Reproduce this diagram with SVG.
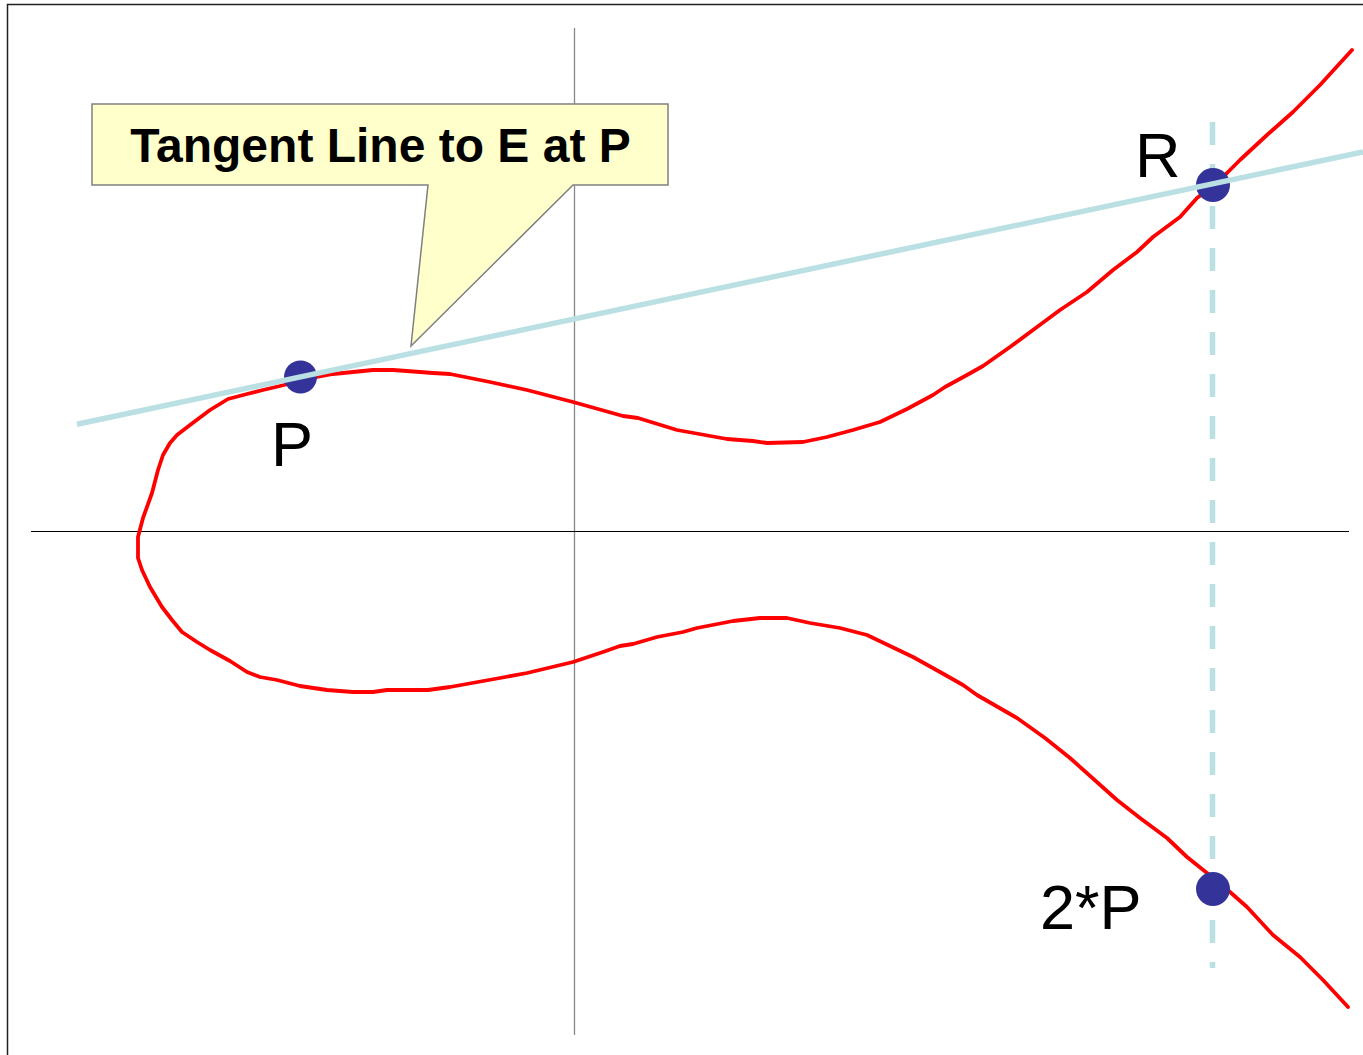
<svg xmlns="http://www.w3.org/2000/svg" width="1363" height="1055" viewBox="0 0 1363 1055">
<style>
.frame{fill:none;stroke:#222222;stroke-width:1.5}
.axis-v{stroke:#888888;stroke-width:1.3}
.axis-h{stroke:#000000;stroke-width:1}
.callout{fill:#FFFFCC;stroke:#808080;stroke-width:1.5}
.curve{fill:none;stroke:#FF0000;stroke-width:3.8;stroke-linejoin:round;stroke-linecap:round}
.tangent{stroke:#BBE0E3;stroke-width:5.5}
.vert{stroke:#BBE0E3;stroke-width:5.5;stroke-dasharray:23 19}
.pt{fill:#333399}
.lbl{font-family:"Liberation Sans",Arial,sans-serif;font-size:63px;fill:#000}
.title{font-family:"Liberation Sans",Arial,sans-serif;font-size:48px;font-weight:bold;fill:#000}
</style>
<rect width="1363" height="1055" fill="#FFFFFF"/>
<path class="frame" d="M7.5,1055 V4.5 H1363"/>
<g id="axes">
<line class="axis-v" x1="574.5" y1="28" x2="574.5" y2="1035"/>
<line class="axis-h" x1="31" y1="531.5" x2="1349" y2="531.5"/>
</g>
<g id="callout">
<path class="callout" d="M92,104 H668 V185 H573 L411,346 L428,185 H92 Z"/>
<text class="title" x="380.5" y="162" text-anchor="middle">Tangent Line to E at P</text>
</g>
<g id="curve-E">
<path class="curve" d="M1352,50 L1320,85 1293,112 1267,135 1240,160 1227,173 1213,186 1197,198 1180,217 1153,237 1137,252 1113,270 1087,292 1060,310 1033,330 1010,347 983,366 967,375 945,387 933,395 907,409 880,422 853,430 827,437 803,442 767,443 753,441 727,439 677,430 638,418 623,416 573,402 527,390 490,382 450,374 433,373 420,372 393,370 373,370 353,372 333,374 317,377 300,381 280,386 263,390 247,394 228,399 210,410 190,425 177,435 170,443 163,455 158,470 152,493 143,518 138,537 138,558 142,570 150,587 162,607 172,620 182,632 197,642 210,650 230,661 247,672 260,677 277,680 300,686 327,690 353,692 373,692 387,690 428,690 450,687 500,678 527,673 573,662 603,652 620,646 633,644 657,637 683,632 697,628 733,621 760,618 787,618 810,623 840,628 867,635 890,646 913,657 940,672 963,685 977,695 1017,718 1045,738 1070,758 1117,800 1140,818 1167,838 1187,857 1207,873 1230,892 1247,907 1273,935 1300,957 1323,980 1348,1007"/>
</g>
<g id="connectors">
<line id="vertical-dashed" class="vert" x1="1212.5" y1="122" x2="1212.5" y2="968"/>
</g>
<g id="point-P">
<circle class="pt" cx="300.5" cy="377" r="16.5"/>
<text class="lbl" x="271" y="466">P</text>
</g>
<g id="point-R">
<circle class="pt" cx="1213" cy="185" r="17"/>
<text class="lbl" x="1135" y="177">R</text>
</g>
<g id="point-2P">
<circle class="pt" cx="1213" cy="889" r="17"/>
<text class="lbl" x="1040" y="929">2*P</text>
</g>
<g id="tangent">
<line class="tangent" x1="77" y1="424.2" x2="1363" y2="152"/>
</g>
</svg>
